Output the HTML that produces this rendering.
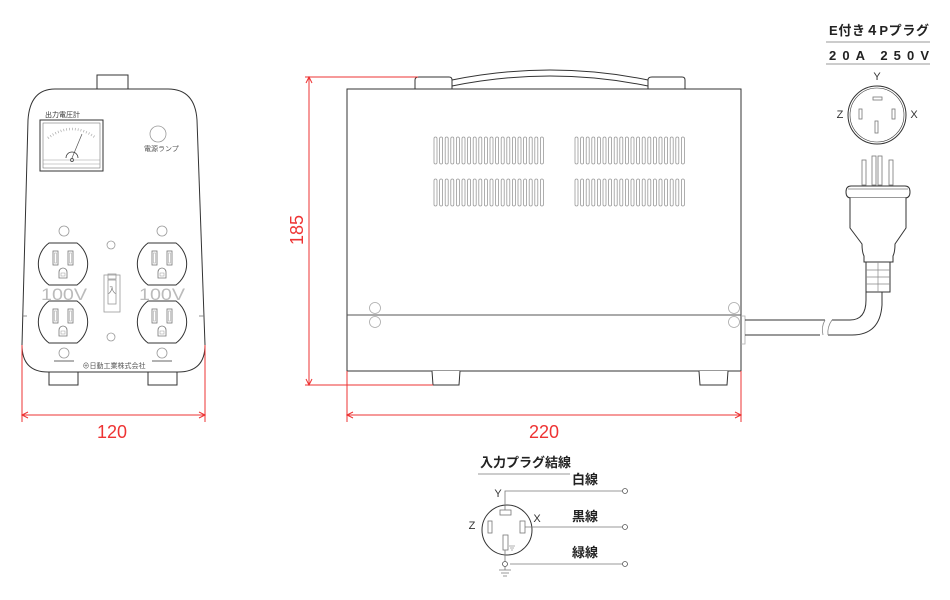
<!DOCTYPE html>
<html><head><meta charset="utf-8"><style>
html,body{margin:0;padding:0;background:#fff;width:950px;height:600px;overflow:hidden}
svg{display:block}
text{font-family:"Liberation Sans","Noto Sans CJK JP",sans-serif}
</style></head><body>
<svg width="950" height="600" viewBox="0 0 950 600" xmlns="http://www.w3.org/2000/svg">
<defs>
<g id="outlet">
<path d="M-14,-21 H14 A26,26 0 0 1 14,21 H-14 A26,26 0 0 1 -14,-21 Z" fill="#fff" stroke="#333" stroke-width="1"/>
<rect x="-10" y="-13" width="5" height="14" fill="none" stroke="#777" stroke-width="0.8"/>
<rect x="-8.5" y="-11" width="2" height="10" fill="none" stroke="#aaa" stroke-width="0.6"/>
<rect x="5" y="-13" width="5" height="14" fill="none" stroke="#777" stroke-width="0.8"/>
<rect x="6.5" y="-11" width="2" height="10" fill="none" stroke="#aaa" stroke-width="0.6"/>
<path d="M-4,14 V8 A4,4 0 0 1 4,8 V14 Z" fill="none" stroke="#777" stroke-width="0.8"/>
<rect x="-2" y="9" width="4" height="3" fill="none" stroke="#999" stroke-width="0.5"/>
</g>
</defs>

<!-- FRONT VIEW -->
<g stroke="#333" stroke-width="1" fill="#fff">
<rect x="97" y="75" width="31" height="14"/>
<rect x="49" y="372" width="29" height="13"/>
<rect x="148" y="372" width="29" height="13"/>
<path d="M55,89 H168 Q195,89 197,120 L205,345 Q205,372 178,372 H48 Q22,372 22,345 L28,120 Q30,89 55,89 Z"/>
</g>
<line x1="22" y1="316" x2="27" y2="316" stroke="#777" stroke-width="0.8"/>
<line x1="199" y1="316" x2="204" y2="316" stroke="#777" stroke-width="0.8"/>
<text x="45" y="117" font-size="7" fill="#333">出力電圧計</text>
<rect x="40" y="120" width="63" height="51" fill="#fff" stroke="#333"/>
<rect x="43" y="123" width="57" height="45" fill="none" stroke="#777" stroke-width="0.6"/>
<path d="M48,138 Q72,120 96,138" fill="none" stroke="#aaa" stroke-width="2.5" stroke-dasharray="0.7 2.2"/>
<line x1="72" y1="158" x2="82" y2="134" stroke="#555" stroke-width="0.7"/>
<path d="M66,158 A5,5 0 0 1 78,158" fill="none" stroke="#333" stroke-width="0.8"/>
<circle cx="72" cy="160" r="1.5" fill="none" stroke="#333" stroke-width="0.8"/>
<line x1="43" y1="160" x2="100" y2="160" stroke="#999" stroke-width="0.6"/>
<line x1="43" y1="164" x2="100" y2="164" stroke="#999" stroke-width="0.6"/>
<circle cx="158" cy="134" r="8" fill="none" stroke="#999" stroke-width="0.8"/>
<text x="144" y="151" font-size="7" fill="#555">電源ランプ</text>
<g fill="none" stroke="#999" stroke-width="0.8">
<circle cx="64" cy="231" r="5"/><circle cx="162" cy="231" r="5"/>
<circle cx="111" cy="245" r="4"/><circle cx="111" cy="337" r="4"/>
<circle cx="64" cy="353" r="5"/><circle cx="162" cy="353" r="5"/>
<rect x="104" y="275" width="16" height="37"/>
<rect x="108" y="280" width="8" height="24"/>
<rect x="108" y="274" width="8" height="5"/>
</g>
<line x1="54" y1="361" x2="74" y2="361" stroke="#999" stroke-width="1.5"/>
<line x1="152" y1="361" x2="172" y2="361" stroke="#999" stroke-width="1.5"/>
<text x="112" y="293" font-size="8" fill="#777" text-anchor="middle">入</text>
<use href="#outlet" x="63" y="264"/>
<use href="#outlet" x="63" y="322"/>
<use href="#outlet" x="162" y="264"/>
<use href="#outlet" x="162" y="322"/>
<text x="41" y="300" font-size="17" fill="#bbb" textLength="46" lengthAdjust="spacingAndGlyphs">100V</text>
<text x="139" y="300" font-size="17" fill="#bbb" textLength="46" lengthAdjust="spacingAndGlyphs">100V</text>
<text x="114" y="368" font-size="7" fill="#555" text-anchor="middle">⊕日動工業株式会社</text>

<!-- front dims -->
<g stroke="#e33" stroke-width="1">
<line x1="22" y1="345" x2="22" y2="422"/>
<line x1="205" y1="345" x2="205" y2="422"/>
<line x1="22" y1="415" x2="205" y2="415"/>
<path d="M28,412 L22,415 L28,418" fill="none"/>
<path d="M199,412 L205,415 L199,418" fill="none"/>
</g>
<text x="112" y="438" font-size="18" fill="#e33" text-anchor="middle">120</text>

<!-- SIDE VIEW -->
<g stroke="#333" stroke-width="1" fill="#fff">
<path d="M415,89 V80 Q415,77 419,77 H449 Q452,77 452,80 V89"/>
<path d="M648,89 V80 Q648,77 652,77 H682 Q685,77 685,80 V89"/>
<path d="M452,80 Q550,60 648,80" fill="none"/>
<path d="M452,86 Q550,66 648,86" fill="none"/>
<rect x="347" y="89" width="394" height="282"/>
<line x1="347" y1="315" x2="741" y2="315" stroke="#555"/>
<path d="M432,371 L433,385 H459 L460,371"/>
<path d="M699,371 L700,385 H727 L728,371"/>
</g>
<g fill="none" stroke="#aaa" stroke-width="0.8">
<circle cx="375" cy="308" r="5.5"/><circle cx="375" cy="322" r="5.5"/>
<circle cx="734" cy="308" r="5.5"/><circle cx="734" cy="322" r="5.5"/>
<path d="M741,316 H745 V344 H741"/>
</g>
<g id="vents" fill="none" stroke="#999" stroke-width="0.8">
<g id="vrow">
<rect x="434" y="137" width="3" height="27" rx="1.5"/><rect x="439.6" y="137" width="3" height="27" rx="1.5"/><rect x="445.2" y="137" width="3" height="27" rx="1.5"/><rect x="450.8" y="137" width="3" height="27" rx="1.5"/><rect x="456.4" y="137" width="3" height="27" rx="1.5"/><rect x="462" y="137" width="3" height="27" rx="1.5"/><rect x="467.6" y="137" width="3" height="27" rx="1.5"/><rect x="473.2" y="137" width="3" height="27" rx="1.5"/><rect x="478.8" y="137" width="3" height="27" rx="1.5"/><rect x="484.4" y="137" width="3" height="27" rx="1.5"/><rect x="490" y="137" width="3" height="27" rx="1.5"/><rect x="495.6" y="137" width="3" height="27" rx="1.5"/><rect x="501.2" y="137" width="3" height="27" rx="1.5"/><rect x="506.8" y="137" width="3" height="27" rx="1.5"/><rect x="512.4" y="137" width="3" height="27" rx="1.5"/><rect x="518" y="137" width="3" height="27" rx="1.5"/><rect x="523.6" y="137" width="3" height="27" rx="1.5"/><rect x="529.2" y="137" width="3" height="27" rx="1.5"/><rect x="534.8" y="137" width="3" height="27" rx="1.5"/><rect x="540.4" y="137" width="3" height="27" rx="1.5"/>
</g>
<use href="#vrow" x="141" y="0"/>
<use href="#vrow" x="0" y="42"/>
<use href="#vrow" x="141" y="42"/>
</g>
<!-- cord -->
<g fill="none" stroke="#333" stroke-width="1">
<path d="M745,320 H825 M745,335 H820"/>
<path d="M832,320 H850 Q866,320 866,300 V290"/>
<path d="M828,335 H852 Q880,335 882,305 V290"/>
<path d="M825,320 q-4,7 -2,15 M832,320 q-5,7 -4,15" stroke="#888" stroke-width="0.8"/>
</g>
<!-- side dims -->
<g stroke="#e33" stroke-width="1">
<line x1="305" y1="77" x2="418" y2="77"/>
<line x1="305" y1="385" x2="433" y2="385"/>
<line x1="309" y1="77" x2="309" y2="385"/>
<path d="M306,83 L309,77 L312,83 M306,379 L309,385 L312,379" fill="none"/>
<line x1="347" y1="371" x2="347" y2="422"/>
<line x1="741" y1="371" x2="741" y2="422"/>
<line x1="347" y1="415" x2="741" y2="415"/>
<path d="M353,412 L347,415 L353,418 M735,412 L741,415 L735,418" fill="none"/>
</g>
<text x="0" y="0" font-size="18" fill="#e33" text-anchor="middle" transform="translate(303,230) rotate(-90)">185</text>
<text x="544" y="438" font-size="18" fill="#e33" text-anchor="middle">220</text>

<!-- PLUG -->
<text x="829" y="35" font-size="13" font-weight="bold" fill="#222" textLength="100" lengthAdjust="spacing">E付き４Pプラグ</text>
<line x1="826" y1="42" x2="930" y2="42" stroke="#999"/>
<text x="829" y="60" font-size="13" font-weight="bold" fill="#222" textLength="100" lengthAdjust="spacing">20A  250V</text>
<line x1="826" y1="64" x2="930" y2="64" stroke="#999"/>
<circle cx="877" cy="115" r="29" fill="none" stroke="#333"/>
<circle cx="877" cy="115" r="27" fill="none" stroke="#333" stroke-width="0.6"/>
<g fill="none" stroke="#777" stroke-width="0.8">
<rect x="873" y="97" width="9" height="3"/>
<rect x="859" y="109" width="3" height="10"/>
<rect x="892" y="109" width="3" height="10"/>
<rect x="875" y="121" width="3" height="12"/>
<rect x="862" y="160" width="4" height="25"/><rect x="872" y="156" width="4" height="29"/><rect x="878" y="156" width="4" height="29"/><rect x="889" y="160" width="4" height="25"/>
</g>
<text x="877" y="80" font-size="11" fill="#333" text-anchor="middle">Y</text>
<text x="840" y="118" font-size="11" fill="#333" text-anchor="middle">Z</text>
<text x="914" y="118" font-size="11" fill="#333" text-anchor="middle">X</text>
<g fill="#fff" stroke="#333" stroke-width="1">
<path d="M851,186 H905 Q910,186 910,192 Q910,198 905,198 H851 Q846,198 846,192 Q846,186 851,186 Z"/>
<line x1="848" y1="189" x2="908" y2="189" stroke-width="0.6"/>
<path d="M850,198 V228 L862,244 Q862,252 864,256 L864,262 H893 V256 Q895,252 895,244 L906,228 V198"/>
<rect x="866" y="262" width="24" height="30"/>
</g>
<g stroke="#888" stroke-width="0.7">
<line x1="866" y1="270" x2="890" y2="270"/><line x1="866" y1="277" x2="890" y2="277"/><line x1="866" y1="284" x2="890" y2="284"/>
<line x1="878" y1="262" x2="878" y2="292"/>
</g>

<!-- WIRING -->
<text x="480" y="467" font-size="13" font-weight="bold" fill="#222">入力プラグ結線</text>
<line x1="478" y1="474" x2="570" y2="474" stroke="#999"/>
<text x="572" y="484" font-size="13" font-weight="bold" fill="#222">白線</text>
<text x="572" y="521" font-size="13" font-weight="bold" fill="#222">黒線</text>
<text x="572" y="557" font-size="13" font-weight="bold" fill="#222">緑線</text>
<circle cx="507" cy="530" r="25" fill="none" stroke="#333"/>
<text x="498" y="497" font-size="11" fill="#333" text-anchor="middle">Y</text>
<text x="472" y="529" font-size="11" fill="#333" text-anchor="middle">Z</text>
<text x="537" y="522" font-size="11" fill="#333" text-anchor="middle">X</text>
<g fill="none" stroke="#777" stroke-width="0.8">
<rect x="500" y="510" width="11" height="5"/>
<rect x="488" y="521" width="4" height="12"/>
<rect x="520" y="521" width="5" height="12"/>
<rect x="503" y="535" width="5" height="15"/>
</g>
<path d="M509,546 H515 M510,548 H514 M511,550 H513" stroke="#999" stroke-width="0.8"/>
<g fill="none" stroke="#777" stroke-width="0.8">
<path d="M505,510 V491 H622"/>
<line x1="525" y1="527" x2="622" y2="527"/>
<line x1="510" y1="564" x2="622" y2="564"/>
<line x1="505" y1="550" x2="505" y2="570"/>
<path d="M499,570 H511 M501,573 H509 M503,576 H507"/>
</g>
<g fill="#fff" stroke="#555" stroke-width="0.8">
<circle cx="625" cy="491" r="2.5"/><circle cx="625" cy="527" r="2.5"/><circle cx="625" cy="564" r="2.5"/>
<circle cx="505" cy="564" r="2.5"/>
</g>
</svg>
</body></html>
